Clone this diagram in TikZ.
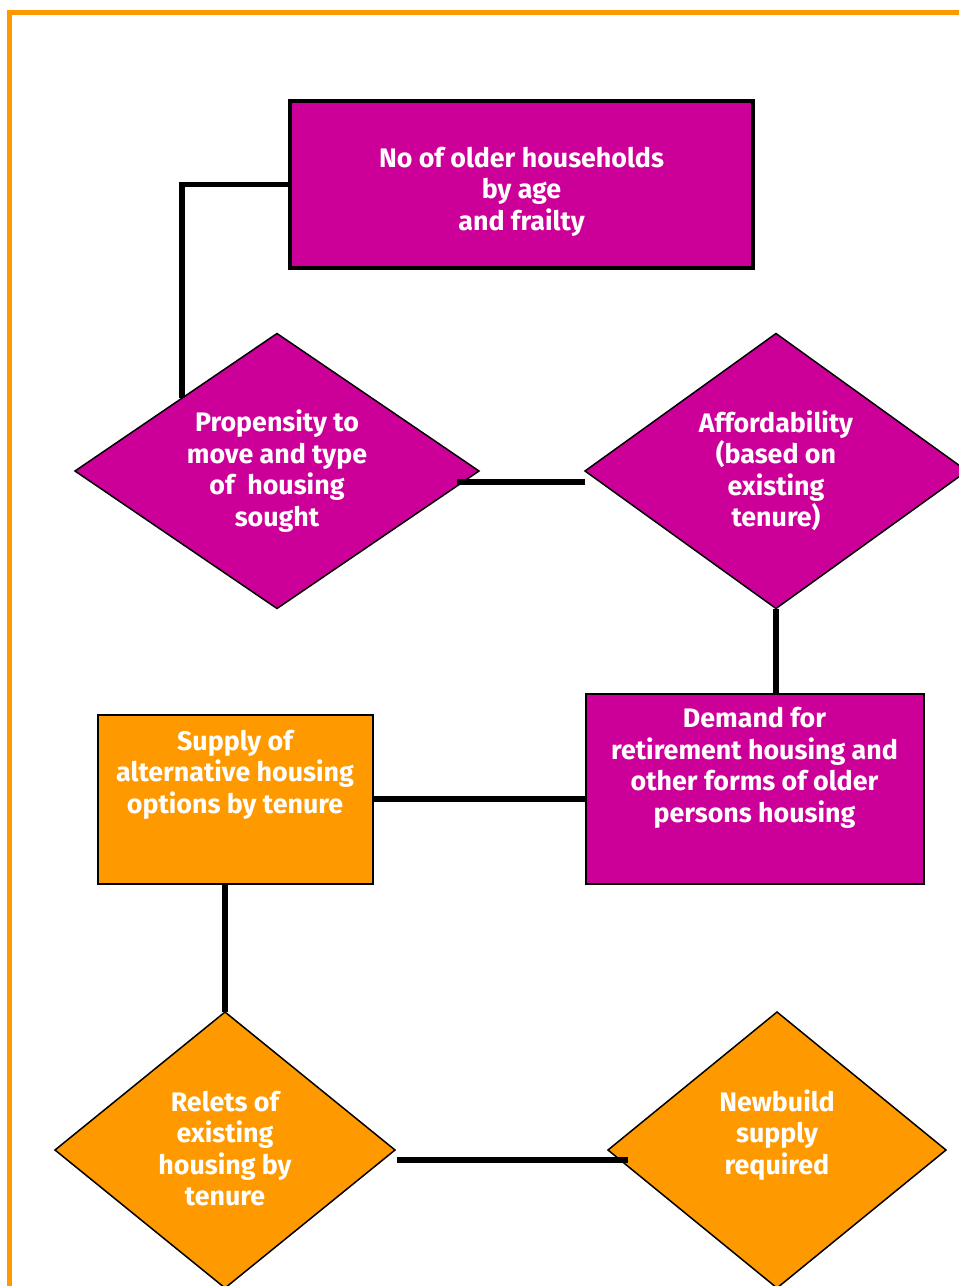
\documentclass[tikz,border=0pt]{standalone}
\usepackage{fontspec}
\setmainfont{Fira Sans}
\usetikzlibrary{shapes.geometric,positioning,calc}
\definecolor{pinkfill}{HTML}{CC0099}
\definecolor{orangefill}{HTML}{FF9900}
\tikzset{
	block/.style = {draw=black, rectangle, inner sep=0pt, outer sep=0pt},
	rombo/.style = {draw=black, diamond, inner sep=0pt, outer sep=0pt, line width=0.75pt},
	txt/.style = {text=white, align=center, inner sep=0pt, font=\fontsize{13.4}{15.75}\selectfont\bfseries},
	link/.style = {draw=black, line width=2.7pt},
	frame/.style = {draw=orangefill, line width=2.5pt}
}
\begin{document}
\begin{tikzpicture}[x=0.5pt,y=-0.5pt]
    \useasboundingbox (0,0) rectangle (959,1286);
    \draw [frame] (9.2,1300) |- (975,12);

    \node [block, fill=pinkfill, line width=2pt, minimum width=231.5pt, minimum height=83.5pt] (households) at (521.5,184.5) {};
    \node [rombo, fill=pinkfill, minimum width=202pt, minimum height=137.5pt] (propensity) at (277,471) {};
    \node [rombo, fill=pinkfill, minimum width=191pt, minimum height=137.5pt] (afford) at (776,471) {};
    \node [block, fill=pinkfill, line width=1pt, minimum width=169pt, minimum height=95pt] (demand) at (754.5,788.5) {};
    \node [block, fill=orangefill, line width=1pt, minimum width=137.5pt, minimum height=84.5pt] (supply) at (235,799) {};
    \node [rombo, fill=orangefill, minimum width=170pt, minimum height=138pt] (relets) at (225,1150) {};
    \node [rombo, fill=orangefill, minimum width=169pt, minimum height=138pt] (newbuild) at (777,1150) {};

    \node [txt] (text1) at ([yshift=-3.5pt]households.center) {No of older households\\by age\\and frailty};
    \node [txt] (text2) at (propensity.center) {Propensity to\\move and type\\of\ \ housing\\sought};
    \node [txt] (text3) at (afford.center) {Affordability\\(based on\\existing\\tenure)};
    \node [txt] (text4) at ([yshift=10.25pt]demand.center) {Demand for\\retirement housing and\\other forms of older\\persons housing};
    \node [txt] (text5) at ([yshift=12.25pt]supply.center) {Supply of\\alternative housing\\options by tenure};
    \node [txt] (text6) at ([yshift=0.75pt]relets.center) {Relets of\\existing\\housing by\\tenure};
    \node [txt] (text7) at ([yshift=7.5pt]newbuild.center) {Newbuild\\supply\\required};

    \draw [link] (households.west) -| ([shift={(6,-4)}]propensity.north west);
    \draw [link] ([shift={(-22,11)}]propensity.east) -- ([yshift=-5.5pt]afford.west);
    \draw [link] (afford.south) -- (afford.south |- demand.north);
    \draw [link] (supply.east) -- (supply.east -| demand.west);
    \draw [link] (relets.north |- supply.south) -- (relets.north);
    \draw [link] ([shift={(2,10)}]relets.east) -- ([shift={(20,10)}]newbuild.west);
\end{tikzpicture}
\end{document}
